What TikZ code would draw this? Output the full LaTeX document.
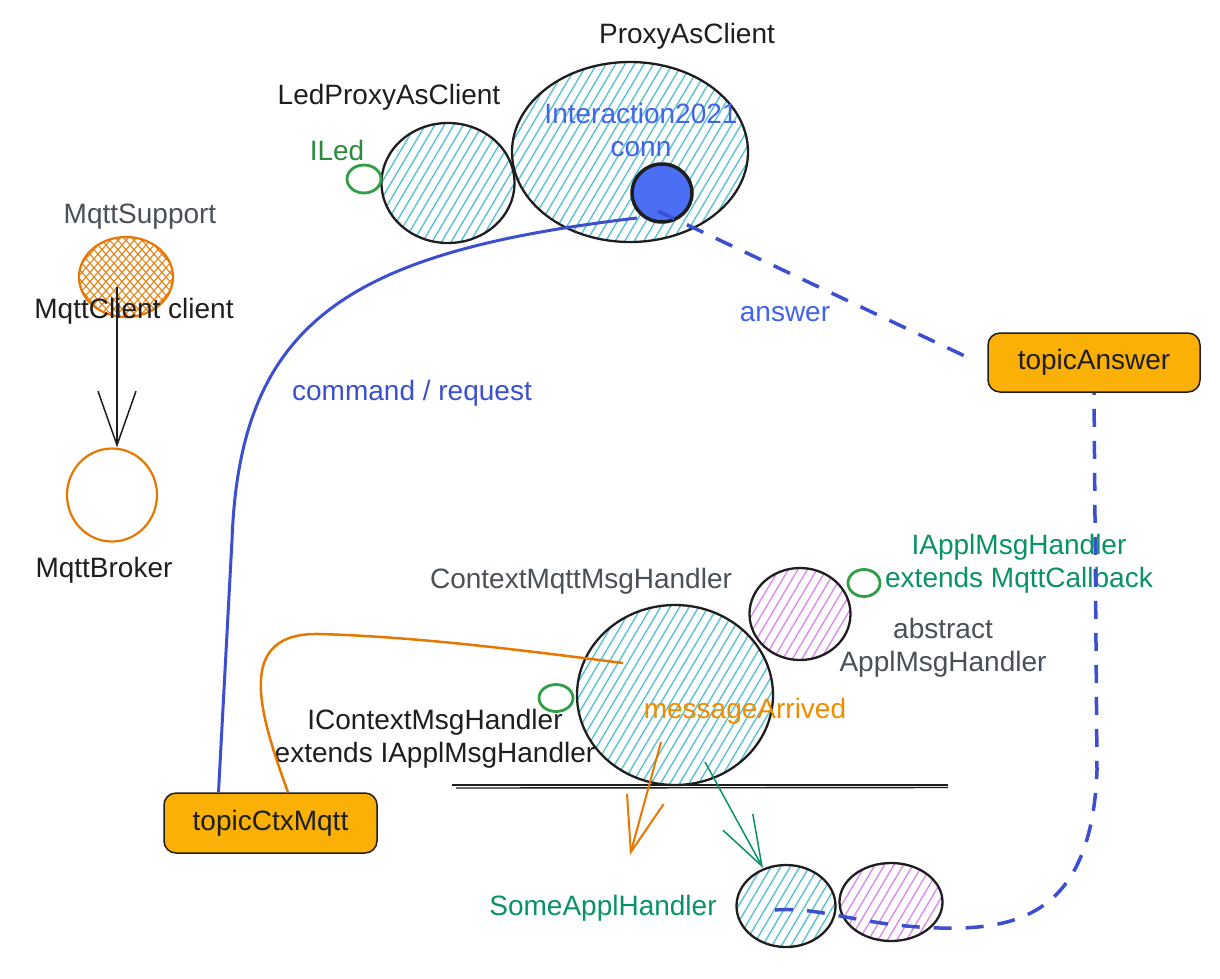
\documentclass[tikz,border=0pt]{standalone}
\usepackage{fontspec}
\setmainfont{Liberation Sans}
\usetikzlibrary{shapes.geometric,calc,arrows.meta}
\definecolor{ink}{HTML}{1E1E1E}
\definecolor{cgray}{HTML}{495057}
\definecolor{igreen}{HTML}{2F9E44}
\definecolor{lgreen}{HTML}{2B8A3E}
\definecolor{tgreen}{HTML}{099268}
\definecolor{tblue}{HTML}{4263EB}
\definecolor{cblue}{HTML}{3B4FCF}
\definecolor{connblue}{HTML}{4C6EF5}
\definecolor{ccyan}{HTML}{15AABF}
\definecolor{cviolet}{HTML}{CC5DE8}
\definecolor{corange}{HTML}{E67700}
\definecolor{torange}{HTML}{F08C00}
\definecolor{topicfill}{HTML}{FAB005}
\begin{document}
\begin{tikzpicture}[x=1pt,y=-1pt,
  every node/.style={font=\fontsize{28pt}{33pt}\selectfont},
  lbl/.style={inner sep=0pt, align=center, text=ink, yshift=-3pt},
  shp/.style={ellipse, draw=ink, line width=2.3pt, inner sep=0pt},
  hach/.style={path picture={\foreach \k in {-36,...,36}{\draw[#1, line width=1.4pt, opacity=.7] ($(path picture bounding box.center)+(\k*9.5pt-80pt,-135pt)$) -- ++(160pt,270pt);}}},
  crossh/.style={path picture={\foreach \k in {-20,...,20}{\draw[#1, line width=1.1pt, opacity=.9] ($(path picture bounding box.center)+(\k*8pt-70pt,-80pt)$) -- ++(140pt,160pt); \draw[#1, line width=1.1pt, opacity=.9] ($(path picture bounding box.center)+(\k*8pt+70pt,-80pt)$) -- ++(-140pt,160pt);}}},
  iface/.style={ellipse, draw=igreen, line width=2.8pt, inner sep=0pt},
  topicbox/.style={draw=ink, line width=1.5pt, fill=topicfill, rounded corners=12pt, minimum width=213pt, minimum height=60pt, inner sep=0pt, text=ink},
  bdash/.style={draw=cblue, line width=3.5pt, dash pattern=on 18pt off 14pt},
]
\useasboundingbox (0,0) rectangle (1220,978);
\fill[white] (0,0) rectangle (1220,978);

% ---- top: ProxyAsClient
\node[shp, hach=ccyan, minimum width=236pt, minimum height=180pt] (proxy) at (630,152) {};
\node[shp, hach=ccyan, minimum width=133pt, minimum height=120pt] (led) at (448,183) {};
\node[iface, minimum width=34pt, minimum height=28pt] (iled) at (364,179) {};
\node[lbl] (lproxy) at (687,33) {ProxyAsClient};
\node[lbl] (lled) at (389,94) {LedProxyAsClient};
\node[lbl, text=lgreen] (liled) at (337,147) {ILed};
\node[lbl, text=tblue] (lconn) at (641,127) {Interaction2021\\conn};
\node[ellipse, draw=ink, line width=3.5pt, fill=connblue, minimum width=60pt, minimum height=58pt, inner sep=0pt] (conn) at (662,193) {};

% ---- MqttSupport / broker
\node[ellipse, draw=corange, line width=2.2pt, crossh=corange, minimum width=94pt, minimum height=80pt, inner sep=0pt] (support) at (126,277) {};
\node[lbl, text=cgray] (lsupport) at (140,214) {MqttSupport};
\node[lbl] (lclient) at (134,308) {MqttClient client};
\node[ellipse, draw=corange, line width=2.2pt, minimum width=90pt, minimum height=93pt, inner sep=0pt] (broker) at (112,495) {};
\node[lbl] (lbroker) at (104,567) {MqttBroker};
\draw[ink, line width=1.5pt, -{Straight Barb[length=54pt,width=38pt]}] ($(support)+(-9,10)$) -- ($(broker.north)+(5,0)$);

% ---- topics
\node[topicbox] (tctx) at (270.5,823) {\raisebox{-3pt}{topicCtxMqtt}\hspace{12pt}};
\node[topicbox, minimum width=212pt, minimum height=59pt] (tans) at (1094,362.5) {\raisebox{-2pt}{topicAnswer}};

% ---- context handler group
\node[shp, hach=ccyan, minimum width=196pt, minimum height=180pt] (ctx) at (675,695) {};
\node[shp, hach=cviolet, minimum width=101pt, minimum height=92pt] (appl) at (800,614) {};
\node[iface, minimum width=32pt, minimum height=27pt] (cbif) at (864,583) {};
\node[iface, minimum width=34pt, minimum height=27pt] (ctxif) at (556,698) {};
\node[lbl, text=cgray] (lctx) at (581,578) {ContextMqttMsgHandler};
\node[lbl, text=tgreen] (lcb) at (1019,561) {IApplMsgHandler\\extends MqttCallback};
\node[lbl, text=cgray] (labs) at (943,645) {abstract\\ApplMsgHandler};
\node[lbl] (lictx) at (435,736) {IContextMsgHandler\\extends IApplMsgHandler};
\node[lbl, text=torange] (lmsg) at (745,708) {messageArrived};
\draw[ink, line width=1.4pt] (452,785) -- (948,785);
\draw[ink, line width=1.4pt] (456,788) -- (948,787.5);

% ---- bottom handlers
\node[shp, hach=ccyan, minimum width=99pt, minimum height=82pt] (some) at (786,906) {};
\node[shp, hach=cviolet, minimum width=103pt, minimum height=78pt] (some2) at (891,902) {};
\node[lbl, text=tgreen] (lsome) at (603,905) {SomeApplHandler};

% ---- connectors
\coordinate (oend) at (630,855);
\draw[corange, line width=2pt, -{Straight Barb[length=55pt,width=38pt]}] ($(ctx)+(-14,47)$) -- (oend);
\draw[tgreen, line width=1.5pt, -{Straight Barb[length=50pt,width=34pt]}] ($(ctx)+(30,67)$) -- ($(some)+(-23,-38)$);
\draw[corange, line width=2.5pt] ($(tctx.north)+(17.5,0)$) .. controls (258,710) and (235,632) .. (320,634) .. controls (420,637) and (520,650) .. ($(ctx)+(-52,-32)$);
\draw[cblue, line width=3pt] ($(conn)+(-25,25)$) .. controls (350,252) and (240,320) .. (232,540) -- ($(tctx.north)+(-52,0)$);
\node[lbl, text=cblue] (lcmd) at (412,390) {command / request};
\draw[bdash] ($(conn)+(-4,18)$) -- ($(tans.west)+(-13,-2)$);
\node[lbl, text=tblue] (lans) at (785,311) {answer};
\draw[bdash] ($(some)+(-11,4)$) .. controls (820,906) and (860,926) .. (940,928) .. controls (1020,930) and (1092,912) .. (1097,770) -- (tans.south);
\end{tikzpicture}
\end{document}
